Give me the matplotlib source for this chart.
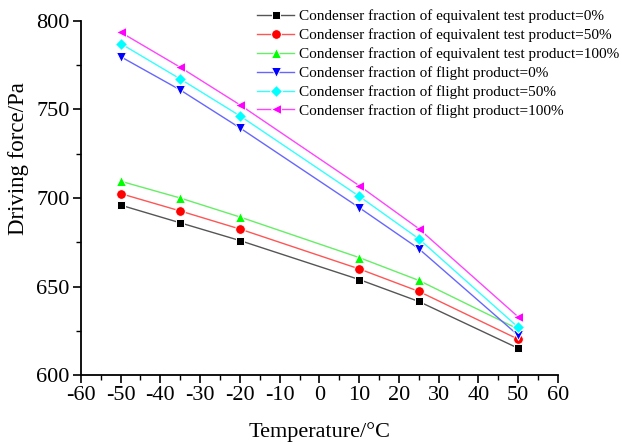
import numpy as np
import matplotlib.pyplot as plt
from matplotlib.ticker import MultipleLocator

plt.rcParams['font.family'] = ['Liberation Serif', 'DejaVu Serif']
plt.rcParams['axes.unicode_minus'] = False

temperature = [-50, -35, -20, 10, 25, 50]

test_0 = [696, 686, 676, 654, 641.6, 615.2]
test_50 = [702.5, 692.7, 682.5, 660, 647.3, 620.3]
test_100 = [709.5, 700, 689.3, 666.4, 653.5, 626]
flight_0 = [779.8, 761, 739.6, 694.6, 671.4, 622.5]
flight_50 = [787.2, 767.2, 746.4, 701, 677, 627]
flight_100 = [793.6, 773.8, 752.6, 707, 682.7, 632.9]

labels = [
    "Condenser fraction of equivalent test product=0%",
    "Condenser fraction of equivalent test product=50%",
    "Condenser fraction of equivalent test product=100%",
    "Condenser fraction of flight product=0%",
    "Condenser fraction of flight product=50%",
    "Condenser fraction of flight product=100%",
]

series = [test_0, test_50, test_100, flight_0, flight_50, flight_100]
marker_colors = ['#000000', '#ff0000', '#00ff00', '#0000ff', '#00ffff', '#ff00ff']
line_colors = ['#555555', '#ff5555', '#66ee66', '#6666ff', '#33ffff', '#ff44ff']
markers = ['s', 'o', '^', 'v', 'D', '<']
sizes = [5.8, 7, 7.5, 7.5, 6.5, 7.5]

fig = plt.figure(figsize=(6.22, 4.44), dpi=100)
ax = fig.add_axes([0.130, 0.155, 0.767, 0.798])

for _s, _l, _mc, _lc, _m, _ms in zip(series, labels, marker_colors, line_colors, markers, sizes):
    ax.plot(temperature, _s, color=_lc, lw=1.0, marker=_m, ms=_ms, mew=0.7,
            markerfacecolor=_mc, markeredgecolor='white', label=_l)

ax.set_xlim(-60, 60)
ax.set_ylim(600, 800)
ax.xaxis.set_major_locator(MultipleLocator(10))
ax.xaxis.set_minor_locator(MultipleLocator(5))
ax.yaxis.set_major_locator(MultipleLocator(50))
ax.yaxis.set_minor_locator(MultipleLocator(25))

ax.spines['top'].set_visible(False)
ax.spines['right'].set_visible(False)
ax.spines['left'].set_linewidth(1.3)
ax.spines['bottom'].set_linewidth(1.3)
ax.tick_params(which='major', direction='out', length=6, width=1.2, labelsize=16, pad=2)
ax.tick_params(which='minor', direction='out', length=3.5, width=1.0)

ax.set_xlabel("Temperature/\u00b0C", fontsize=16)
ax.set_ylabel("Driving force/Pa", fontsize=16.5)
ax.xaxis.set_label_coords(0.5, -0.132)
ax.yaxis.set_label_coords(-0.108, 0.61)

ax.legend(loc='upper left', bbox_to_anchor=(0.399, 1.0), bbox_transform=fig.transFigure,
          frameon=False, fontsize=11.0, handlelength=2.4, handletextpad=0.3,
          labelspacing=0.34, borderaxespad=0.2, markerscale=1.0)

fig.savefig("out.png", dpi=100)
